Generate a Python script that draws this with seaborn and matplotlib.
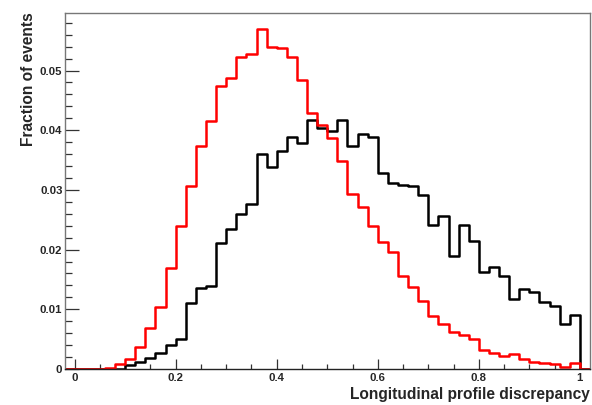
import numpy as np
import pandas as pd
import matplotlib
matplotlib.use("Agg")
import matplotlib.pyplot as plt
from matplotlib.ticker import MultipleLocator, FuncFormatter
import seaborn as sns

# bin edges: 52 bins of 0.02 from -0.02 to 1.02
bin_lo = -0.02
bin_hi = 1.02
bin_w = 0.02

red_values = [
    0.0, 0.0, 0.0, 0.0, 0.0002, 0.0008, 0.0017, 0.0036, 0.0069, 0.0104,
    0.0170, 0.0239, 0.0307, 0.0373, 0.0416, 0.0474, 0.0488, 0.0523, 0.0527, 0.0569,
    0.0539, 0.0537, 0.0523, 0.0484, 0.0429, 0.0409, 0.0387, 0.0348, 0.0294, 0.0272,
    0.0239, 0.0213, 0.0196, 0.0156, 0.0138, 0.0114, 0.0088, 0.0076, 0.0062, 0.0057,
    0.0050, 0.0031, 0.0026, 0.0022, 0.0025, 0.0017, 0.0011, 0.0010, 0.0009, 0.0004,
    0.0010, 0.0,
]
black_values = [
    0.0, 0.0, 0.0, 0.0, 0.0, 0.0, 0.0007, 0.0011, 0.0019, 0.0027,
    0.0040, 0.0051, 0.0111, 0.0136, 0.0139, 0.0211, 0.0235, 0.0259, 0.0276, 0.0360,
    0.0339, 0.0365, 0.0389, 0.0378, 0.0418, 0.0404, 0.0398, 0.0418, 0.0374, 0.0393,
    0.0388, 0.0328, 0.0311, 0.0308, 0.0306, 0.0292, 0.0242, 0.0256, 0.0189, 0.0242,
    0.0214, 0.0162, 0.0171, 0.0156, 0.0117, 0.0134, 0.0129, 0.0113, 0.0106, 0.0075,
    0.0090, 0.0,
]

x_ticks = [0, 0.2, 0.4, 0.6, 0.8, 1.0]
y_ticks = [0, 0.01, 0.02, 0.03, 0.04, 0.05]

edges = np.round(np.arange(len(red_values) + 1) * bin_w + bin_lo, 4)
centers = (edges[:-1] + edges[1:]) / 2

df = pd.DataFrame({
    "x": np.concatenate([centers, centers]),
    "w": np.concatenate([black_values, red_values]),
    "series": ["black"] * len(centers) + ["red"] * len(centers),
})

sns.set_style("white")
plt.rcParams["font.family"] = ["Liberation Sans", "DejaVu Sans"]
plt.rcParams["font.weight"] = "bold"

fig = plt.figure(figsize=(5.92, 4.05), dpi=100)
ax = fig.add_axes([0.109, 0.089, 0.8876, 0.8797])

for name, col in [("black", "black"), ("red", "#ff0000")]:
    sub = df[df["series"] == name]
    sns.histplot(data=sub, x="x", weights="w", bins=len(centers),
                 binrange=(bin_lo, bin_hi), element="step",
                 fill=False, color=col, linewidth=1.8, ax=ax, stat="count")

ax.set_xlim(bin_lo, bin_hi)
ax.set_ylim(0, 0.0597)
ax.set_xticks(x_ticks)
ax.set_yticks(y_ticks)
ax.xaxis.set_minor_locator(MultipleLocator(0.05))
ax.yaxis.set_minor_locator(MultipleLocator(0.002))

def fmt(v, pos):
    s = f"{v:.2f}".rstrip("0").rstrip(".")
    return s
ax.xaxis.set_major_formatter(FuncFormatter(fmt))
ax.yaxis.set_major_formatter(FuncFormatter(fmt))

ax.tick_params(axis="x", which="major", direction="in", length=7.2, width=0.9,
               labelsize=8.2, pad=3, color="#333333")
ax.tick_params(axis="x", which="minor", direction="in", length=3.6, width=0.9,
               color="#333333")
ax.tick_params(axis="y", which="major", direction="in", length=10, width=0.9,
               labelsize=8.2, pad=1.5, color="#333333")
ax.tick_params(axis="y", which="minor", direction="in", length=5, width=0.9,
               color="#333333")
ax.tick_params(axis="both", which="both", bottom=True, left=True, top=False, right=False)
for lab in ax.get_xticklabels() + ax.get_yticklabels():
    lab.set_fontweight("bold")

for side, sp in ax.spines.items():
    sp.set_visible(True)
    sp.set_color("#777777")
    sp.set_linewidth(1.0)
ax.spines["bottom"].set_color("#222222")

ax.set_xlabel("Longitudinal profile discrepancy", fontsize=11.2, fontweight="bold",
              loc="right", labelpad=3)
ax.set_ylabel("Fraction of events", fontsize=11.2, fontweight="bold",
              loc="top", labelpad=2.5)

fig.savefig("out.png", dpi=100)
